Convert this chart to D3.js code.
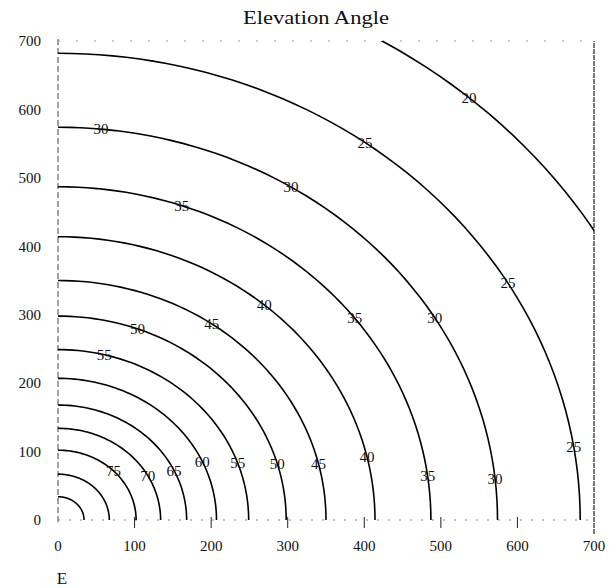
<!DOCTYPE html>
<html><head><meta charset="utf-8">
<script src="https://cdn.jsdelivr.net/npm/d3@7"></script>
<style>body{margin:0;background:#fff}svg{display:block}</style>
</head><body><svg id="c" width="611" height="588"></svg>
<script>
const levels = [20,25,30,35,40,45,50,55,60,65,70,75,80,85];
const radii  = [818,682,574,487,414,350,298,249,207,168,134,102,67,34];
const labelLevels = [20,25,25,25,30,30,30,30,35,35,35,40,40,45,45,50,50,55,55,60,65,70,75];
const labelAngles = [49,54,30.5,9,84.4,58,31,6,70.6,37.3,7.6,49.4,13,55,13.7,69.6,16.1,76,19.5,24.5,25.5,29,44.6];
const xTicks = [0,100,200,300,400,500,600,700];
const yTicks = [0,100,200,300,400,500,600,700];
const title = "Elevation Angle";
const cornerLabel = "E";

const svg = d3.select("#c");
const x = d3.scaleLinear().domain([0,700]).range([58,594]);
const y = d3.scaleLinear().domain([0,700]).range([520,41]);
const serif = "'Liberation Serif','Times New Roman',serif";

svg.append("defs").append("clipPath").attr("id","plot")
  .append("rect").attr("x",x(0)).attr("y",y(700)).attr("width",x(700)-x(0)).attr("height",y(0)-y(700));

// frame
const frame = svg.append("g").attr("stroke","#444").attr("fill","none");
frame.append("line").attr("x1",x(0)).attr("x2",x(0)).attr("y1",y(0)+2).attr("y2",y(700)-3)
  .attr("stroke-width",1).attr("stroke-dasharray","6,3");
frame.append("line").attr("x1",x(700)).attr("x2",x(700)).attr("y1",y(0)+14).attr("y2",y(700))
  .attr("stroke-width",1.2).attr("stroke","#222").attr("stroke-dasharray","5,1");
frame.append("line").attr("x1",x(0)).attr("x2",x(700)).attr("y1",y(0)).attr("y2",y(0))
  .attr("stroke-width",1).attr("stroke","#888").attr("stroke-dasharray","2,9");
frame.append("line").attr("x1",x(0)).attr("x2",x(700)).attr("y1",y(700)).attr("y2",y(700))
  .attr("stroke-width",1).attr("stroke","#999").attr("stroke-dasharray","2,16");

// bottom ticks
svg.append("g").selectAll("line").data(xTicks.filter(d=>d>0&&d<700)).join("line")
  .attr("x1",d=>x(d)).attr("x2",d=>x(d)).attr("y1",y(0)-3).attr("y2",y(0)+8)
  .attr("stroke","#222").attr("stroke-width",1);

// contours
const line = d3.line().x(d=>x(d[0])).y(d=>y(d[1]));
const angles = d3.range(0,90.01,1.5);
svg.append("g").attr("clip-path","url(#plot)").selectAll("path").data(radii).join("path")
  .attr("d",r=>line(angles.map(a=>[r*Math.cos(a*Math.PI/180), r*Math.sin(a*Math.PI/180)])))
  .attr("fill","none").attr("stroke","#000").attr("stroke-width",1.6);

// contour labels
svg.append("g").selectAll("text").data(labelLevels).join("text")
  .attr("x",(d,i)=>{const r=radii[levels.indexOf(d)];return x(r*Math.cos(labelAngles[i]*Math.PI/180));})
  .attr("y",(d,i)=>{const r=radii[levels.indexOf(d)];return y(r*Math.sin(labelAngles[i]*Math.PI/180));})
  .attr("dy","0.35em").attr("text-anchor","middle")
  .attr("font-family",serif).attr("font-size",15).attr("fill","#111")
  .text(d=>d);

// axis labels
svg.append("g").selectAll("text").data(xTicks).join("text")
  .attr("x",d=>x(d)).attr("y",551).attr("text-anchor","middle")
  .attr("font-family",serif).attr("font-size",15).attr("fill","#111").text(d=>d);
svg.append("g").selectAll("text").data(yTicks).join("text")
  .attr("x",41).attr("y",d=>y(d)).attr("dy","0.35em").attr("text-anchor","end")
  .attr("font-family",serif).attr("font-size",15).attr("fill","#111").text(d=>d);

svg.append("text").attr("x",316).attr("y",24).attr("text-anchor","middle")
  .attr("font-family",serif).attr("font-size",18).attr("fill","#111")
  .attr("textLength",146).attr("lengthAdjust","spacingAndGlyphs").text(title);
svg.append("text").attr("x",62).attr("y",584).attr("text-anchor","middle")
  .attr("font-family",serif).attr("font-size",17).attr("fill","#111").text(cornerLabel);
</script></body></html>
